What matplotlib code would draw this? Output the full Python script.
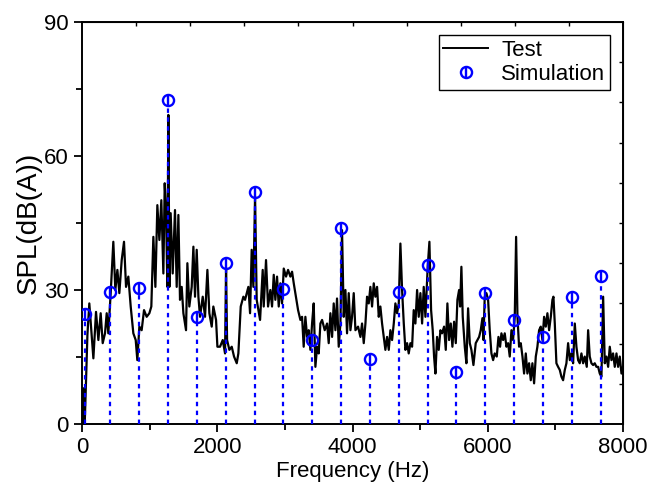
import numpy as np
import matplotlib
matplotlib.use("Agg")
import matplotlib.pyplot as plt

plt.rcParams['font.family'] = ['Liberation Sans', 'DejaVu Sans']

# Test spectrum
test_freq = [15, 25, 40, 60, 80, 108, 168, 207, 242, 276, 306, 340, 365, 389, 424, 463, 493, 523, 552, 587,
             621, 651, 685, 720, 759, 794, 818, 848, 882, 917, 956, 996, 1025, 1055, 1085, 1114, 1144, 1173,
             1203, 1223, 1242, 1262, 1277, 1292, 1311, 1341, 1375, 1400, 1425, 1449, 1474, 1499, 1538, 1558,
             1587, 1622, 1647, 1671, 1696, 1721, 1745, 1785, 1819, 1854, 1883, 1918, 1942, 1982, 2002, 2041,
             2081, 2115, 2130, 2145, 2179, 2214, 2248, 2288, 2312, 2347, 2386, 2411, 2460, 2485, 2509, 2534,
             2559, 2583, 2633, 2672, 2687, 2721, 2751, 2785, 2810, 2835, 2859, 2884, 2909, 2933, 2958, 2983,
             3017, 3047, 3081, 3106, 3131, 3155, 3195, 3229, 3254, 3278, 3303, 3328, 3352, 3377, 3402, 3426,
             3451, 3476, 3500, 3525, 3550, 3589, 3624, 3648, 3673, 3698, 3722, 3747, 3771, 3796, 3821, 3845,
             3870, 3895, 3919, 3944, 3969, 3993, 4018, 4043, 4082, 4117, 4141, 4166, 4191, 4215, 4240, 4264,
             4289, 4314, 4338, 4363, 4388, 4412, 4437, 4462, 4486, 4511, 4536, 4560, 4585, 4610, 4634, 4659,
             4684, 4708, 4733, 4758, 4782, 4807, 4831, 4856, 4881, 4905, 4930, 4955, 4979, 5004, 5029, 5053,
             5078, 5112, 5137, 5162, 5186, 5206, 5226, 5250, 5275, 5300, 5324, 5354, 5379, 5403, 5428, 5453,
             5477, 5502, 5527, 5551, 5576, 5591, 5610, 5630, 5660, 5684, 5709, 5734, 5758, 5788, 5822, 5847,
             5872, 5896, 5921, 5936, 5955, 5980, 6005, 6029, 6054, 6079, 6103, 6133, 6158, 6182, 6202, 6227,
             6251, 6276, 6301, 6325, 6350, 6374, 6399, 6419, 6439, 6463, 6488, 6513, 6537, 6562, 6586, 6611,
             6636, 6660, 6685, 6710, 6734, 6759, 6784, 6808, 6833, 6858, 6882, 6907, 6932, 6956, 6971, 6991,
             7015, 7040, 7065, 7089, 7114, 7139, 7163, 7188, 7213, 7237, 7262, 7287, 7311, 7336, 7360, 7385,
             7410, 7434, 7464, 7484, 7508, 7533, 7558, 7582, 7607, 7632, 7656, 7681, 7706, 7730, 7755, 7780,
             7804, 7829, 7853, 7878, 7903, 7927, 7952, 7977, 8000]
test_spl = [0, 8, 0, 10, 20, 27, 14.7, 25.1, 18.8, 24.8, 18.1, 20.3, 24.8, 20.3, 29.3, 40.8, 30.0, 34.5, 29.3, 36.7,
            40.8, 30.7, 33.0, 26.3, 20.3, 18.8, 14.3, 21.8, 21.0, 25.5, 24.0, 24.8, 26.3, 41.9, 30.7, 49.0, 41.2, 50.1,
            33.7, 53.9, 47.9, 30.7, 69.2, 30.7, 47.2, 33.7, 47.9, 30.7, 46.8, 27.8, 30.7, 24.8, 21.0, 36.0,
            26.3, 30.7, 39.7, 28.5, 39.0, 28.5, 24.0, 28.5, 24.0, 34.5, 24.8, 21.8, 26.3, 23.3, 17.3, 17.3,
            18.8, 15.8, 35.0, 18.8, 16.6, 17.3, 15.1, 13.6, 15.8, 26.3, 28.5, 27.8, 30.7, 24.8, 39.0, 30.7,
            51.0, 27.8, 23.3, 34.5, 26.3, 36.7, 26.3, 30.0, 26.3, 33.4, 27.8, 33.0, 26.3, 31.5, 27.0, 34.8,
            33.0, 34.5, 33.0, 34.1, 31.5, 29.3, 25.5, 23.3, 24.0, 17.3, 24.0, 19.5, 21.0, 16.6, 22.5, 27.0,
            12.8, 17.3, 15.8, 22.5, 23.3, 21.0, 22.5, 18.1, 24.8, 19.5, 27.0, 21.0, 28.1, 17.3, 22.5, 43.4,
            24.0, 30.0, 20.3, 29.3, 21.0, 24.0, 29.3, 21.0, 21.8, 19.5, 22.5, 18.1, 22.5, 28.5, 27.0, 30.7,
            26.3, 31.5, 28.5, 30.7, 24.0, 26.3, 22.5, 19.5, 16.6, 19.5, 16.6, 21.0, 18.8, 22.5, 27.0, 24.8,
            27.0, 40.4, 30.0, 22.5, 16.6, 18.1, 15.8, 18.1, 17.3, 25.5, 22.5, 30.0, 24.0, 29.3, 22.5, 30.7,
            24.0, 35.2, 40.8, 25.5, 21.0, 15.1, 11.3, 19.5, 16.6, 21.0, 20.3, 21.8, 16.6, 27.0, 18.8, 22.5,
            17.3, 22.9, 18.1, 27.8, 30.0, 26.3, 35.2, 24.0, 17.3, 13.6, 25.9, 18.1, 16.6, 13.2, 18.1, 18.8,
            19.5, 21.0, 23.7, 18.8, 28.5, 29.3, 27.8, 21.0, 15.8, 14.3, 15.8, 15.1, 19.5, 17.3, 20.3, 18.8,
            20.3, 17.3, 18.1, 15.1, 21.0, 18.8, 24.0, 41.9, 24.0, 17.3, 18.1, 15.1, 11.3, 15.8, 11.3, 13.6,
            9.8, 13.6, 9.1, 15.1, 17.3, 21.0, 21.8, 18.8, 24.0, 21.8, 24.8, 21.0, 24.0, 27.8, 28.5, 22.5,
            13.6, 12.8, 12.1, 10.6, 9.8, 12.1, 13.6, 18.1, 14.3, 15.8, 13.6, 22.5, 17.3, 14.3, 13.6, 15.8,
            13.6, 15.1, 12.8, 21.0, 15.1, 13.6, 13.2, 13.6, 12.8, 12.8, 11.3, 10.6, 28.5, 13.6, 15.1, 12.8,
            17.3, 14.3, 15.8, 12.8, 15.8, 12.8, 15.1, 11.3, 12.8]

# Simulated harmonics
sim_freq = [45, 414, 843, 1272, 1701, 2130, 2560, 2973, 3402, 3831, 4260, 4689, 5118, 5532, 5961,
            6390, 6819, 7248, 7677]
sim_spl = [24.6, 29.5, 30.4, 72.5, 24.0, 36.0, 52.0, 30.2, 18.8, 43.9, 14.6, 29.5, 35.6, 11.6, 29.3,
           23.3, 19.5, 28.4, 33.1]

fig = plt.figure(figsize=(6.63, 4.92), dpi=100)
ax = fig.add_axes([0.1237, 0.1382, 0.816, 0.8171])

ax.plot(test_freq, test_spl, color='black', lw=1.6, zorder=2)
ax.vlines(sim_freq, 0, np.array(sim_spl) - 1.5, colors='blue', linestyles=(0, (2, 2)), lw=1.6, zorder=3)
circ, = ax.plot(sim_freq, sim_spl, 'o', mfc='none', mec='blue', ms=8, mew=1.7, zorder=4)
bar, = ax.plot(sim_freq, sim_spl, '|', color='blue', ms=8, mew=1.7, zorder=4)
line_h, = ax.plot([], [], color='black', lw=1.4)

ax.set_xlim(0, 8000)
ax.set_ylim(0, 90)
ax.set_xticks(np.arange(0, 8001, 2000))
ax.set_xticks(np.arange(1000, 8000, 2000), minor=True)
ax.set_yticks([0, 30, 60, 90])
ax.set_yticks([15, 45, 75], minor=True)
ax.tick_params(which='major', direction='out', length=6, width=1.3, labelsize=16)
ax.tick_params(which='minor', direction='out', length=4, width=1.3)
for s in ax.spines.values():
    s.set_linewidth(1.4)

# mirrored ticks on top and right
top = ax.secondary_xaxis('top')
top.set_xticks(np.arange(800, 8000, 800))
top.set_xticklabels([])
top.tick_params(direction='in', length=3, width=1.0)
right = ax.secondary_yaxis('right')
right.set_yticks(np.arange(9, 90, 9))
right.set_yticklabels([])
right.tick_params(direction='in', length=3, width=1.0)

ax.set_xlabel('Frequency (Hz)', fontsize=16, labelpad=2)
ax.set_ylabel('SPL(dB(A))', fontsize=20, labelpad=2)

leg = ax.legend([line_h, (circ, bar)], ['Test', 'Simulation'], loc='upper right', fontsize=16,
                fancybox=False, edgecolor='black', framealpha=1, borderaxespad=0.6,
                handlelength=2.0, handletextpad=0.6, borderpad=0.2, labelspacing=0.15)
leg.get_frame().set_linewidth(1.0)

fig.savefig('out.png', dpi=100)
